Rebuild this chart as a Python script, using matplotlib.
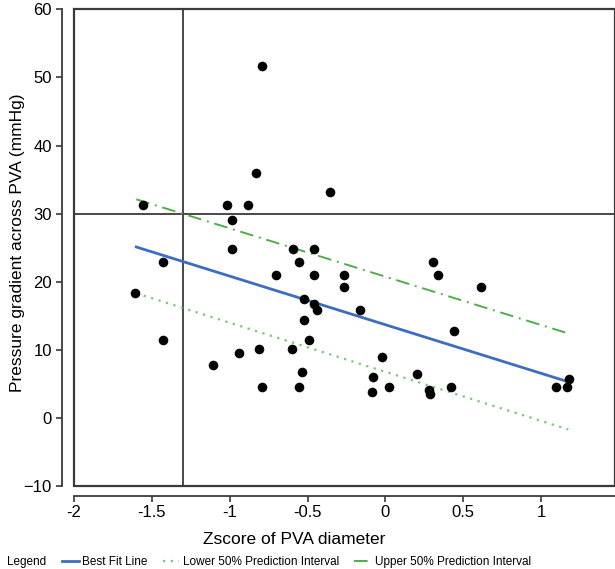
import matplotlib
matplotlib.use("Agg")
import matplotlib.pyplot as plt
from matplotlib.patches import Rectangle

plt.rcParams['font.family'] = ['Liberation Sans', 'DejaVu Sans']

# Data
zscore = [-0.794, -0.831, -0.356, -1.555, -1.015, -0.880, -0.985, -0.985, -0.595, -0.457,
          -0.555, -1.426, 0.304, -0.703, -0.457, -0.266, 0.340, -1.606, -0.264, 0.614,
          -0.523, -0.457, -0.441, -0.163, -0.523, 0.443, -1.426, -0.489, -0.598, -0.812,
          -0.938, -0.024, -1.105, -0.538, 0.205, -0.078, -0.794, -0.555, 0.025, 0.421,
          1.096, 1.164, 1.177, -0.084, 0.282, 0.286]
gradient = [51.7, 35.9, 33.1, 31.3, 31.3, 31.3, 29.0, 24.8, 24.8, 24.8,
            22.9, 22.9, 22.9, 21.0, 21.0, 21.0, 21.0, 18.3, 19.2, 19.2,
            17.4, 16.7, 15.9, 15.9, 14.4, 12.8, 11.4, 11.4, 10.1, 10.1,
            9.5, 8.9, 7.8, 6.7, 6.5, 6.0, 4.6, 4.6, 4.6, 4.6,
            4.6, 4.6, 5.7, 3.8, 4.1, 3.5]

fit_x = [-1.6, 1.175]
fit_y = [25.1, 5.3]
upper_y = [32.1, 12.4]
lower_y = [18.3, -1.7]

vline_x = -1.3
hline_y = 30

xticks = [-2, -1.5, -1, -0.5, 0, 0.5, 1]
xticklabels = ['-2', '-1.5', '-1', '-0.5', '0', '0.5', '1']
yticks = [-10, 0, 10, 20, 30, 40, 50, 60]

fig = plt.figure(figsize=(6.15, 5.69), dpi=100)
ax = fig.add_axes([74/615, 1 - 486/569, 1 - 74/615, (486 - 9.3)/569])

edge = '#3a3a3a'
ax.set_xlim(-2, 1.475)
ax.set_ylim(-10, 60)

ax.axvline(vline_x, color=edge, lw=1.3, zorder=1)
ax.axhline(hline_y, color=edge, lw=1.3, zorder=1)

l1, = ax.plot(fit_x, fit_y, color='#3b6ec2', lw=2.0, label='Best Fit Line', zorder=2)
l2, = ax.plot(fit_x, lower_y, color='#7cc47a', lw=1.6, ls=(0, (1, 2.5)),
              label='Lower 50% Prediction Interval', zorder=2)
l3, = ax.plot(fit_x, upper_y, color='#4eae4a', lw=1.4, ls=(0, (7, 3, 1, 3)),
              label='Upper 50% Prediction Interval', zorder=2)

ax.scatter(zscore, gradient, s=48, color='black', zorder=3, linewidths=0)

# box around plot area
for s in ['top', 'right']:
    ax.spines[s].set_visible(False)
ax.add_patch(Rectangle((0, 0), 1, 1, transform=ax.transAxes, fill=False,
                       edgecolor=edge, lw=1.6, clip_on=False, zorder=4))

# offset axes
ax.spines['left'].set_position(('outward', 9))
ax.spines['bottom'].set_position(('outward', 7))
ax.spines['left'].set_color(edge)
ax.spines['bottom'].set_color(edge)
ax.spines['left'].set_linewidth(1.3)
ax.spines['bottom'].set_linewidth(1.3)

ax.set_xticks(xticks)
ax.set_xticklabels(xticklabels)
ax.set_yticks(yticks)
ax.tick_params(axis='both', labelsize=12, color=edge, width=1.2, length=4, pad=3)

fig.text(17.5/615, 1 - 242.5/569, 'Pressure gradient across PVA (mmHg)', rotation=90,
         ha='center', va='center', fontsize=12.5)
fig.text(294/615, 1 - 540/569, 'Zscore of PVA diameter', ha='center', va='center', fontsize=12.5)

fig.text(7/615, 1 - 562/569, 'Legend', ha='left', va='center', fontsize=8.5)
fig.legend(handles=[l1, l2, l3], loc='center left', bbox_to_anchor=(62/615, 1 - 562/569),
           ncol=3, frameon=False, fontsize=8.5, handlelength=1.4, handletextpad=0.3,
           columnspacing=1.3, borderpad=0, borderaxespad=0)

fig.savefig('out.png', dpi=100)
